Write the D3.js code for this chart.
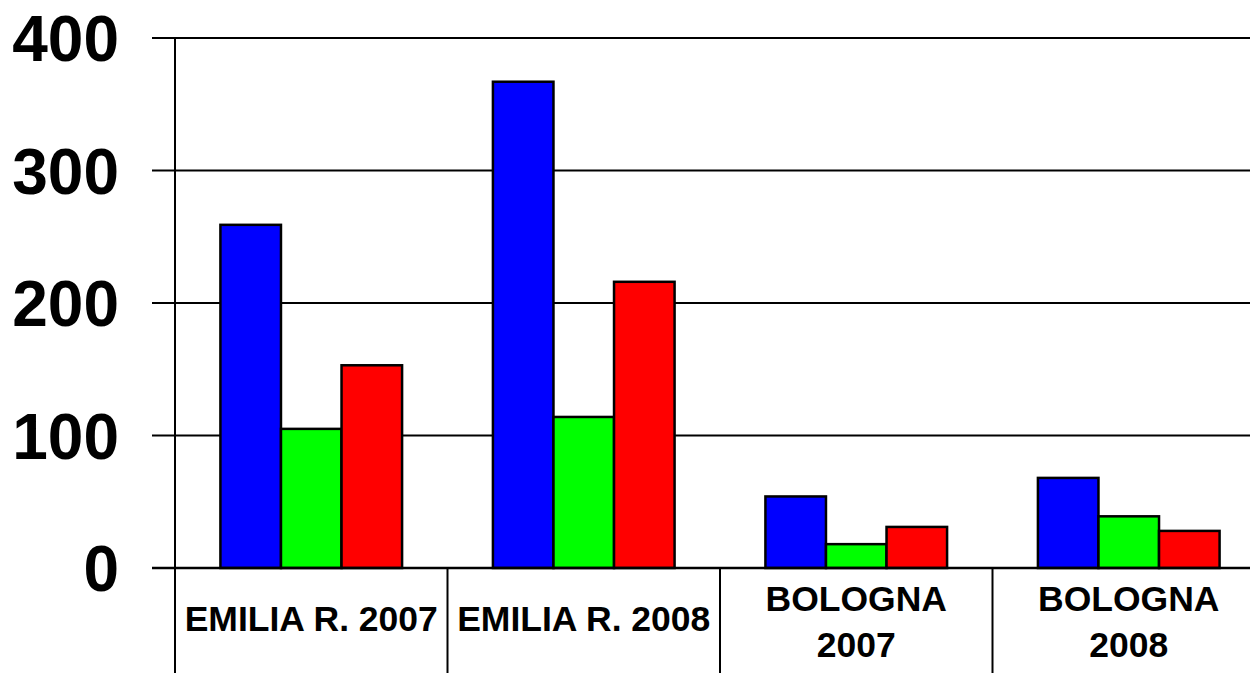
<!DOCTYPE html>
<html>
<head>
<meta charset="utf-8">
<script src="https://cdn.jsdelivr.net/npm/d3@7"></script>
<style>
  body { margin: 0; background: #fff; }
  svg text { font-family: "Liberation Sans", Arial, sans-serif; font-weight: bold; fill: #000; }
</style>
</head>
<body>
<div id="chart"></div>
<script>
// data
var categories = [["EMILIA R. 2007"], ["EMILIA R. 2008"], ["BOLOGNA", "2007"], ["BOLOGNA", "2008"]]
var series = ["blue", "green", "red"]
var blueValues = [259, 367, 54, 68]
var greenValues = [105, 114, 18, 39]
var redValues = [153, 216, 31, 28]
var yTicks = [0, 100, 200, 300, 400]

var colors = { blue: "#0000ff", green: "#00ff00", red: "#ff0000" }

var width = 1250, height = 673
var plotLeft = 175, plotTop = 38, plotBottom = 568
var catWidth = 272.5

var svg = d3.select("#chart").append("svg")
    .attr("width", width)
    .attr("height", height)

var x0 = d3.scaleBand()
    .domain(d3.range(categories.length))
    .range([plotLeft, plotLeft + catWidth * categories.length])
    .padding(0)

var x1 = d3.scaleBand()
    .domain(series)
    .range([0, x0.bandwidth()])
    .paddingInner(0)
    .paddingOuter(0.75)

var y = d3.scaleLinear().domain([0, 400]).range([plotBottom, plotTop])

// gridlines + ticks (ticks stick out left of the axis)
svg.append("g").selectAll("line")
    .data(yTicks)
    .enter().append("line")
    .attr("x1", 152)
    .attr("x2", width)
    .attr("y1", d => y(d))
    .attr("y2", d => y(d))
    .attr("stroke", "#000")
    .attr("stroke-width", 2)

// y tick labels
svg.append("g").selectAll("text")
    .data(yTicks)
    .enter().append("text")
    .attr("x", 119)
    .attr("y", d => y(d))
    .attr("dy", "0.36em")
    .attr("text-anchor", "end")
    .style("font-size", "64px")
    .text(d => d)

// bars
var rows = categories.map(function(c, i) {
  return { i: i, blue: blueValues[i], green: greenValues[i], red: redValues[i] }
})

var groups = svg.append("g").selectAll("g")
    .data(rows)
    .enter().append("g")
    .attr("transform", d => "translate(" + x0(d.i) + ",0)")

groups.selectAll("rect")
    .data(d => series.map(s => ({ key: s, value: d[s] })))
    .enter().append("rect")
    .attr("x", d => x1(d.key))
    .attr("width", x1.bandwidth())
    .attr("y", d => y(d.value))
    .attr("height", d => y(0) - y(d.value))
    .attr("fill", d => colors[d.key])
    .attr("stroke", "#000")
    .attr("stroke-width", 2.5)

// redraw baseline over bar bottoms
svg.append("line")
    .attr("x1", 152).attr("x2", width)
    .attr("y1", y(0)).attr("y2", y(0))
    .attr("stroke", "#000").attr("stroke-width", 2.5)

// y axis line and category separators
svg.append("line")
    .attr("x1", plotLeft).attr("x2", plotLeft)
    .attr("y1", plotTop).attr("y2", height)
    .attr("stroke", "#000").attr("stroke-width", 2)

svg.append("g").selectAll("line")
    .data(d3.range(1, categories.length + 1))
    .enter().append("line")
    .attr("x1", d => plotLeft + d * x0.step())
    .attr("x2", d => plotLeft + d * x0.step())
    .attr("y1", plotBottom)
    .attr("y2", height)
    .attr("stroke", "#000")
    .attr("stroke-width", 2)

// category labels
var labels = svg.append("g").selectAll("text")
    .data(categories)
    .enter().append("text")
    .attr("text-anchor", "middle")
    .attr("x", (d, i) => x0(i) + x0.bandwidth() / 2)
    .attr("y", d => d.length == 1 ? 631 : 611)
    .style("font-size", "35.5px")

labels.selectAll("tspan")
    .data(d => d)
    .enter().append("tspan")
    .attr("x", function() { return d3.select(this.parentNode).attr("x") })
    .attr("dy", (d, i) => i ? 46 : 0)
    .text(d => d)
</script>
</body>
</html>
